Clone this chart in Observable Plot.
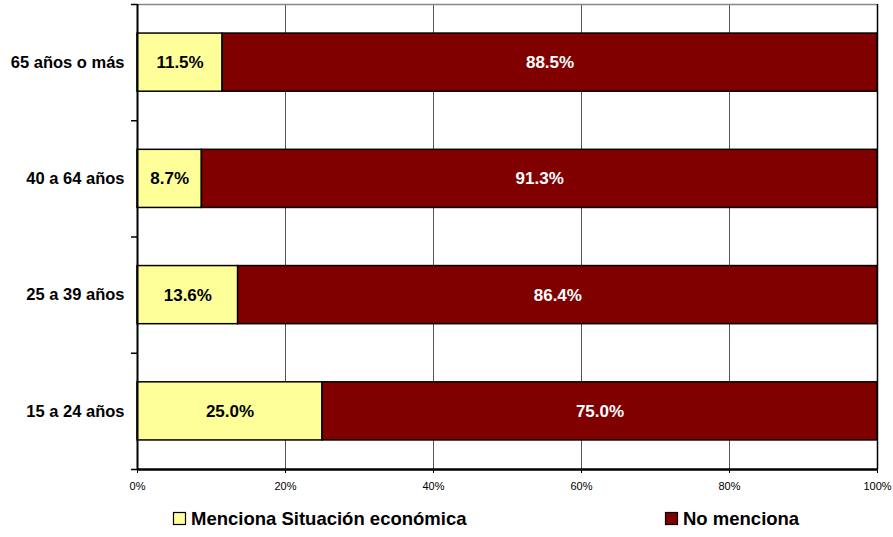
<!DOCTYPE html>
<html>
<head>
<meta charset="utf-8">
<script src="https://cdn.jsdelivr.net/npm/d3@7"></script>
<script src="https://cdn.jsdelivr.net/npm/@observablehq/plot@0.6"></script>
<style>
  html, body { margin: 0; padding: 0; background: #fff; }
  body { width: 893px; height: 537px; overflow: hidden; font-family: Arial, "Liberation Sans", sans-serif; }
</style>
</head>
<body>
<div id="chart"></div>
<script>
// Data (bottom to top)
const categories = ["15 a 24 años", "25 a 39 años", "40 a 64 años", "65 años o más"];
const menciona = [25.0, 13.6, 8.7, 11.5];
const noMenciona = [75.0, 86.4, 91.3, 88.5];
const xTicks = [0, 20, 40, 60, 80, 100];
const seriesNames = ["Menciona Situación económica", "No menciona"];
const seriesColors = ["#FFFF99", "#800000"];

const rows = categories.map((c, i) => ({
  cat: c, i, a: menciona[i], b: noMenciona[i]
}));
const fmt = v => v.toFixed(1) + "%";

const plot = Plot.plot({
  width: 893,
  height: 500,
  marginLeft: 137,
  marginRight: 16,
  marginTop: 4,
  marginBottom: 31,
  style: { fontFamily: "Arial, 'Liberation Sans', sans-serif", fontSize: "11px", color: "#000", background: "#fff" },
  x: { domain: [0, 100], label: null },
  y: { domain: [0, categories.length], label: null },
  marks: [
    Plot.ruleX(xTicks.slice(1, -1), { stroke: "#555", strokeWidth: 1 }),
    Plot.ruleY([categories.length], { stroke: "#888", strokeWidth: 1.5 }),
    Plot.ruleX([100], { stroke: "#000", strokeWidth: 1.5 }),
    Plot.rect(rows, { x1: 0, x2: "a", y1: d => d.i + 0.25, y2: d => d.i + 0.75, fill: seriesColors[0], stroke: "#000", strokeWidth: 1.5 }),
    Plot.rect(rows, { x1: "a", x2: d => d.a + d.b, y1: d => d.i + 0.25, y2: d => d.i + 0.75, fill: seriesColors[1], stroke: "#000", strokeWidth: 1.5 }),
    Plot.text(rows, { x: d => d.a / 2, y: d => d.i + 0.5, text: d => fmt(d.a), fill: "#000", fontWeight: "bold", fontSize: 17 }),
    Plot.text(rows, { x: d => d.a + d.b / 2, y: d => d.i + 0.5, text: d => fmt(d.b), fill: "#fff", fontWeight: "bold", fontSize: 17 }),
    Plot.text(rows, { x: 0, y: d => d.i + 0.5, text: "cat", textAnchor: "end", dx: -13, fill: "#000", fontWeight: "bold", fontSize: 16.5 }),
    Plot.axisY({ ticks: d3.range(0, categories.length + 1), tickFormat: () => "", tickSize: 6, stroke: "#000", strokeWidth: 1.5, label: null }),
    Plot.axisX({ ticks: xTicks, tickFormat: d => d + "%", tickSize: 4, tickPadding: 9, stroke: "#000", fontSize: 11, label: null }),
    Plot.ruleX([0], { stroke: "#000", strokeWidth: 2 }),
    Plot.ruleY([0], { stroke: "#000", strokeWidth: 2.5 })
  ]
});
document.getElementById("chart").appendChild(plot);

// Legend
const legend = d3.select("#chart").append("svg")
  .attr("width", 893).attr("height", 37)
  .style("display", "block");
const legendX = [173, 665];
seriesNames.forEach((name, k) => {
  const g = legend.append("g").attr("transform", `translate(${legendX[k]},0)`);
  g.append("rect").attr("x", 0.5).attr("y", 12.5).attr("width", 12).attr("height", 12)
    .attr("fill", seriesColors[k]).attr("stroke", "#000").attr("stroke-width", 1.2);
  g.append("text").attr("x", 18).attr("y", 25)
    .attr("font-family", "Arial, 'Liberation Sans', sans-serif")
    .attr("font-weight", "bold").attr("font-size", 18.5).attr("fill", "#000")
    .text(name);
});
</script>
</body>
</html>
